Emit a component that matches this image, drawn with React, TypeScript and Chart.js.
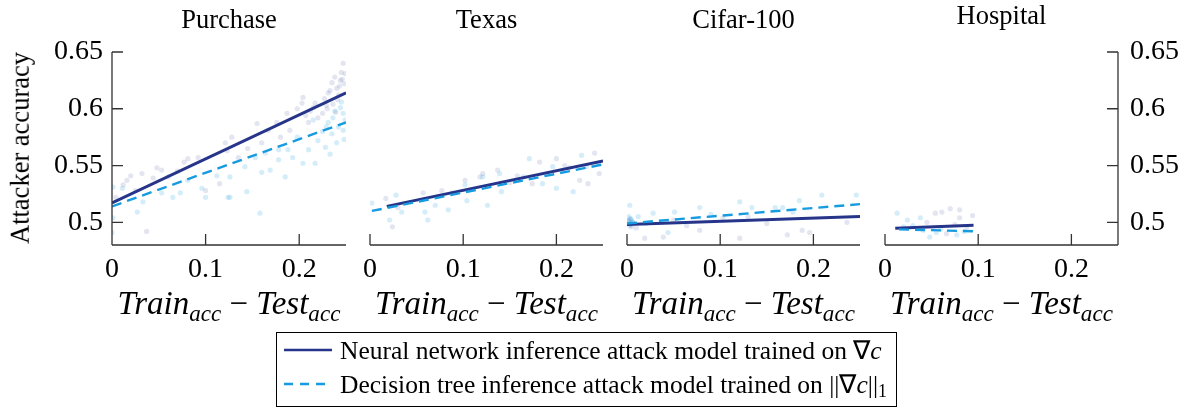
import React, { useEffect, useRef } from "react";
import { Chart, registerables } from "chart.js";
Chart.register(...registerables);

const panelTitles = ["Purchase", "Texas", "Cifar-100", "Hospital"];
const xTickValues = [0, 0.1, 0.2];
const yTickValues = [0.5, 0.55, 0.6, 0.65];
const xTickLabels = ["0", "0.1", "0.2"];
const yTickLabels = ["0.5", "0.55", "0.6", "0.65"];
const legendLabels = [
  "Neural network inference attack model trained on ",
  "Decision tree inference attack model trained on ",
];

// Purchase
const purchaseNnX = [0.012, 0.016, 0.02, 0.032, 0.037, 0.044, 0.048, 0.053, 0.077, 0.081, 0.092, 0.1, 0.115, 0.121, 0.123, 0.128, 0.135, 0.155, 0.167, 0.176, 0.187, 0.19, 0.203, 0.204, 0.21, 0.217, 0.225, 0.231, 0.235, 0.238, 0.244, 0.247, 0.24, 0.245, 0.23, 0.22, 0.248, 0.242, 0.236, 0.212, 0.198, 0.18, 0.16, 0.145, 0.06, 0.07, 0.025, 0.004, 0.241, 0.246, 0.233, 0.227, 0.249, 0.239, 0.215, 0.207, 0.243, 0.229];
const purchaseNnY = [0.533, 0.537, 0.541, 0.543, 0.492, 0.539, 0.548, 0.546, 0.553, 0.556, 0.557, 0.528, 0.534, 0.57, 0.563, 0.575, 0.557, 0.587, 0.581, 0.588, 0.596, 0.581, 0.605, 0.61, 0.588, 0.605, 0.596, 0.614, 0.623, 0.628, 0.625, 0.64, 0.618, 0.632, 0.6, 0.592, 0.622, 0.612, 0.604, 0.598, 0.6, 0.575, 0.57, 0.565, 0.54, 0.545, 0.528, 0.522, 0.608, 0.626, 0.616, 0.609, 0.631, 0.597, 0.601, 0.594, 0.62, 0.603];
const purchaseDtX = [0, 0.001, 0.001, 0.011, 0.027, 0.033, 0.053, 0.065, 0.073, 0.081, 0.096, 0.1, 0.112, 0.124, 0.126, 0.126, 0.142, 0.144, 0.153, 0.158, 0.16, 0.164, 0.169, 0.178, 0.178, 0.185, 0.188, 0.193, 0.198, 0.204, 0.21, 0.215, 0.217, 0.22, 0.228, 0.231, 0.235, 0.242, 0.244, 0.247, 0.247, 0.24, 0.233, 0.225, 0.249, 0.238, 0.245, 0.236, 0.229, 0.248];
const purchaseDtY = [0.491, 0.504, 0.531, 0.53, 0.509, 0.518, 0.526, 0.522, 0.526, 0.537, 0.53, 0.522, 0.541, 0.522, 0.522, 0.54, 0.549, 0.527, 0.557, 0.508, 0.544, 0.561, 0.546, 0.555, 0.564, 0.54, 0.564, 0.557, 0.575, 0.552, 0.564, 0.59, 0.552, 0.572, 0.566, 0.588, 0.578, 0.584, 0.601, 0.596, 0.581, 0.57, 0.56, 0.58, 0.59, 0.598, 0.606, 0.592, 0.584, 0.573];
const purchaseNnLineX = [0, 0.25];
const purchaseNnLineY = [0.517, 0.614];
const purchaseDtLineX = [0, 0.25];
const purchaseDtLineY = [0.514, 0.588];

// Texas
const texasNnX = [0.017, 0.024, 0.057, 0.077, 0.088, 0.102, 0.118, 0.121, 0.137, 0.158, 0.174, 0.182, 0.19, 0.2, 0.209, 0.214, 0.225, 0.234, 0.241, 0.246, 0.03, 0.15];
const texasNnY = [0.521, 0.496, 0.526, 0.528, 0.526, 0.537, 0.54, 0.543, 0.546, 0.541, 0.534, 0.553, 0.543, 0.556, 0.55, 0.548, 0.537, 0.534, 0.561, 0.543, 0.513, 0.535];
const texasDtX = [0.002, 0.021, 0.028, 0.034, 0.059, 0.062, 0.07, 0.084, 0.102, 0.104, 0.121, 0.126, 0.139, 0.141, 0.171, 0.185, 0.196, 0.2, 0.218, 0.227, 0.245, 0.165, 0.232];
const texasDtY = [0.517, 0.502, 0.524, 0.509, 0.509, 0.502, 0.515, 0.511, 0.533, 0.519, 0.54, 0.515, 0.543, 0.527, 0.556, 0.534, 0.549, 0.53, 0.527, 0.559, 0.552, 0.54, 0.549];
const texasNnLineX = [0.018, 0.25];
const texasNnLineY = [0.514, 0.554];
const texasDtLineX = [0.002, 0.25];
const texasDtLineY = [0.51, 0.551];

// Cifar-100
const cifarNnX = [0.003, 0.004, 0.006, 0.019, 0.039, 0.064, 0.078, 0.103, 0.121, 0.15, 0.172, 0.188, 0.196, 0.236, 0.01, 0.05, 0.13, 0.002, 0.005];
const cifarNnY = [0.503, 0.498, 0.5, 0.486, 0.487, 0.497, 0.493, 0.504, 0.486, 0.499, 0.489, 0.493, 0.491, 0.5, 0.495, 0.502, 0.505, 0.501, 0.496];
const cifarDtX = [0.003, 0.005, 0.002, 0.028, 0.051, 0.078, 0.121, 0.134, 0.159, 0.167, 0.178, 0.185, 0.209, 0.246, 0.044, 0.09, 0.012, 0.02, 0.001, 0.004, 0.002, 0.006, 0.003];
const cifarDtY = [0.515, 0.502, 0.499, 0.508, 0.509, 0.513, 0.518, 0.513, 0.513, 0.513, 0.509, 0.519, 0.524, 0.524, 0.491, 0.507, 0.505, 0.499, 0.501, 0.503, 0.505, 0.5, 0.497];
const cifarNnLineX = [0, 0.25];
const cifarNnLineY = [0.498, 0.505];
const cifarDtLineX = [0, 0.25];
const cifarDtLineY = [0.499, 0.516];

// Hospital
const hospNnX = [0.054, 0.061, 0.07, 0.08, 0.08, 0.094, 0.066, 0.088, 0.045, 0.075];
const hospNnY = [0.508, 0.509, 0.512, 0.511, 0.504, 0.506, 0.49, 0.496, 0.5, 0.498];
const hospDtX = [0.013, 0.024, 0.038, 0.048, 0.077, 0.03, 0.041, 0.02, 0.06, 0.085, 0.055];
const hospDtY = [0.508, 0.502, 0.504, 0.487, 0.489, 0.497, 0.493, 0.496, 0.494, 0.492, 0.491];
const hospNnLineX = [0.011, 0.095];
const hospNnLineY = [0.4947, 0.4974];
const hospDtLineX = [0.015, 0.095];
const hospDtLineY = [0.4938, 0.4921];

const NAVY = "#26358a";
const LIGHT = "#169be0";
const FONT = '"Liberation Serif", serif';

const zip = (xs: number[], ys: number[]) => xs.map((x, i) => ({ x, y: ys[i] }));

const panelData = [
  { nn: zip(purchaseNnX, purchaseNnY), dt: zip(purchaseDtX, purchaseDtY), nnLine: zip(purchaseNnLineX, purchaseNnLineY), dtLine: zip(purchaseDtLineX, purchaseDtLineY) },
  { nn: zip(texasNnX, texasNnY), dt: zip(texasDtX, texasDtY), nnLine: zip(texasNnLineX, texasNnLineY), dtLine: zip(texasDtLineX, texasDtLineY) },
  { nn: zip(cifarNnX, cifarNnY), dt: zip(cifarDtX, cifarDtY), nnLine: zip(cifarNnLineX, cifarNnLineY), dtLine: zip(cifarDtLineX, cifarDtLineY) },
  { nn: zip(hospNnX, hospNnY), dt: zip(hospDtX, hospDtY), nnLine: zip(hospNnLineX, hospNnLineY), dtLine: zip(hospDtLineX, hospDtLineY) },
];

const W = 1181;
const H = 409;
const panelLeft = [112, 370, 627, 885];
const panelRight = [346, 603, 860, 1118];
const areaTop = 52;
const areaBottom = 245;
const yAxisWidth = 70;
const xAxisHeight = 40;
const TICK = 11;

function makeAxisPlugin(side: string) {
  return {
    id: "inwardAxes",
    afterDraw(chart: any) {
      const { ctx, chartArea: a, scales } = chart;
      ctx.save();
      ctx.strokeStyle = "#333";
      ctx.lineWidth = 1.3;
      ctx.beginPath();
      ctx.moveTo(a.left, a.bottom);
      ctx.lineTo(a.right, a.bottom);
      if (side === "left") {
        ctx.moveTo(a.left, a.top);
        ctx.lineTo(a.left, a.bottom);
      }
      if (side === "right") {
        ctx.moveTo(a.right, a.top);
        ctx.lineTo(a.right, a.bottom);
      }
      xTickValues.forEach((v) => {
        const x = scales.x.getPixelForValue(v);
        ctx.moveTo(x, a.bottom);
        ctx.lineTo(x, a.bottom - TICK);
      });
      if (side !== "none") {
        yTickValues.forEach((v) => {
          const y = scales.y.getPixelForValue(v);
          if (side === "left") {
            ctx.moveTo(a.left, y);
            ctx.lineTo(a.left + TICK, y);
          } else {
            ctx.moveTo(a.right, y);
            ctx.lineTo(a.right - TICK, y);
          }
        });
      }
      ctx.stroke();
      ctx.restore();
    },
  };
}

function Panel({ index }: { index: number }) {
  const ref = useRef<HTMLCanvasElement>(null);
  useEffect(() => {
    const side = index === 0 ? "left" : index === 3 ? "right" : "none";
    const d = panelData[index];
    const hasY = side !== "none";
    const padLeft = side === "left" ? panelLeft[index] - yAxisWidth : panelLeft[index];
    const padRight = side === "right" ? W - panelRight[index] - yAxisWidth : W - panelRight[index];
    const chart = new Chart(ref.current as HTMLCanvasElement, {
      type: "scatter",
      data: {
        datasets: [
          { data: d.dtLine, showLine: true, pointRadius: 0, borderColor: LIGHT, borderWidth: 2.4, borderDash: [10, 6], order: 0 },
          { data: d.nnLine, showLine: true, pointRadius: 0, borderColor: NAVY, borderWidth: 3, order: 1 },
          { data: d.dt, pointRadius: 2.6, borderWidth: 0, backgroundColor: "rgba(22,155,224,0.18)", order: 2 },
          { data: d.nn, pointRadius: 2.6, borderWidth: 0, backgroundColor: "rgba(38,53,138,0.13)", order: 3 },
        ],
      } as any,
      options: {
        animation: false,
        responsive: false,
        devicePixelRatio: 1,
        layout: { padding: { left: padLeft, right: padRight, top: areaTop, bottom: H - areaBottom - xAxisHeight } },
        plugins: { legend: { display: false }, tooltip: { enabled: false }, title: { display: false } },
        scales: {
          x: {
            type: "linear",
            min: 0,
            max: 0.25,
            position: "bottom",
            grid: { display: false, drawTicks: false },
            border: { display: false },
            ticks: {
              color: "#000",
              font: { family: FONT, size: 28 },
              padding: 8,
              maxRotation: 0,
              callback: (v: any) => {
                const i = xTickValues.findIndex((t) => Math.abs(t - v) < 1e-9);
                return i >= 0 ? xTickLabels[i] : "";
              },
            },
            afterBuildTicks: (s: any) => {
              s.ticks = xTickValues.map((v) => ({ value: v }));
            },
            afterFit: (s: any) => {
              s.height = xAxisHeight;
            },
          },
          y: {
            type: "linear",
            min: 0.48,
            max: 0.65,
            display: hasY,
            position: side === "right" ? "right" : "left",
            grid: { display: false, drawTicks: false },
            border: { display: false },
            ticks: {
              color: "#000",
              font: { family: FONT, size: 28 },
              padding: side === "right" ? 12 : 9,
              callback: (v: any) => {
                const i = yTickValues.findIndex((t) => Math.abs(t - v) < 1e-9);
                return i >= 0 ? yTickLabels[i] : "";
              },
            },
            afterBuildTicks: (s: any) => {
              s.ticks = yTickValues.map((v) => ({ value: v }));
            },
            afterFit: (s: any) => {
              s.width = hasY ? yAxisWidth : 0;
            },
          },
        },
      } as any,
      plugins: [makeAxisPlugin(side)],
    });
    return () => chart.destroy();
  }, [index]);
  return (
    <canvas
      ref={ref}
      width={W}
      height={H}
      style={{ position: "absolute", left: 0, top: 0, width: W, height: H }}
    />
  );
}

function XLabel({ center }: { center: number }) {
  const sub: React.CSSProperties = { fontSize: "0.7em", fontStyle: "italic", position: "relative", top: "0.3em" };
  return (
    <div
      style={{
        position: "absolute",
        left: center,
        top: 303,
        transform: "translate(-50%, -50%)",
        whiteSpace: "nowrap",
        fontSize: 33,
        lineHeight: 1,
      }}
    >
      <i>Train</i>
      <span style={sub}>acc</span>
      <span> − </span>
      <i>Test</i>
      <span style={sub}>acc</span>
    </div>
  );
}

export default function App() {
  return (
    <div
      style={{
        position: "fixed",
        left: 0,
        top: 0,
        width: W,
        height: H,
        background: "#fff",
        fontFamily: FONT,
        color: "#000",
        overflow: "hidden",
      }}
    >
      {[0, 1, 2, 3].map((i) => (
        <Panel key={i} index={i} />
      ))}
      {panelTitles.map((t, i) => (
        <div
          key={t}
          style={{
            position: "absolute",
            left: (panelLeft[i] + panelRight[i]) / 2,
            top: i === 3 ? 15 : 19,
            transform: "translate(-50%, -50%)",
            fontSize: 26.5,
            lineHeight: 1,
            whiteSpace: "nowrap",
          }}
        >
          {t}
        </div>
      ))}
      {panelTitles.map((t, i) => (
        <XLabel key={"xl" + t} center={(panelLeft[i] + panelRight[i]) / 2} />
      ))}
      <div
        style={{
          position: "absolute",
          left: 20,
          top: 148,
          transform: "translate(-50%, -50%) rotate(-90deg)",
          fontSize: 26.5,
          lineHeight: 1,
          whiteSpace: "nowrap",
        }}
      >
        Attacker accuracy
      </div>
      <div
        style={{
          position: "absolute",
          left: 276,
          top: 332,
          width: 621,
          height: 75,
          border: "1px solid #000",
          boxSizing: "border-box",
          fontSize: 25.5,
        }}
      >
        {[0, 1].map((r) => (
          <div
            key={r}
            style={{ position: "absolute", left: 7, top: r === 0 ? 2 : 36, height: 30, display: "flex", alignItems: "center", whiteSpace: "nowrap" }}
          >
            <svg width={48} height={10} style={{ marginRight: 8 }}>
              <line
                x1={0}
                y1={5}
                x2={48}
                y2={5}
                stroke={r === 0 ? NAVY : LIGHT}
                strokeWidth={2.4}
                strokeDasharray={r === 0 ? undefined : "9 7"}
              />
            </svg>
            <span>
              {legendLabels[r]}
              {r === 0 ? (
                <span>
                  ∇<i>c</i>
                </span>
              ) : (
                <span>
                  ||∇<i>c</i>||<sub style={{ fontSize: "0.7em", verticalAlign: "-0.25em", lineHeight: 0 }}>1</sub>
                </span>
              )}
            </span>
          </div>
        ))}
      </div>
    </div>
  );
}
